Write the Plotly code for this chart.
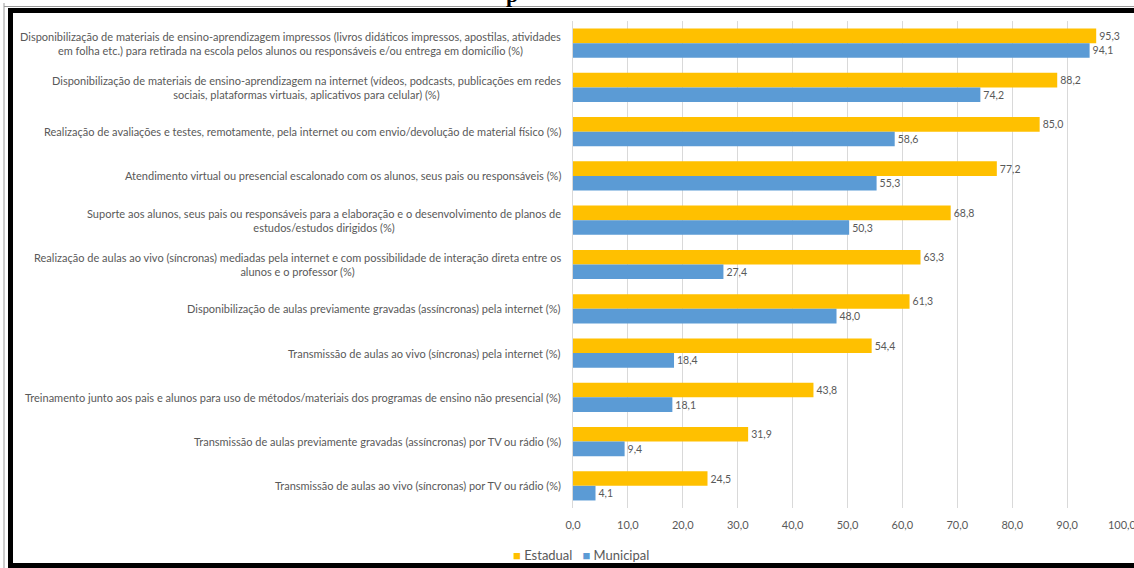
import plotly.graph_objects as go

categories = [
    "Disponibilização de materiais de ensino-aprendizagem impressos (livros didáticos impressos, apostilas, atividades<br>em folha etc.) para retirada na escola pelos alunos ou responsáveis e/ou entrega em domicílio (%)",
    "Disponibilização de materiais de ensino-aprendizagem na internet (vídeos, podcasts, publicações em redes<br>sociais, plataformas virtuais, aplicativos para celular) (%)",
    "Realização de avaliações e testes, remotamente, pela internet ou com envio/devolução de material físico (%)",
    "Atendimento virtual ou presencial escalonado com os alunos, seus pais ou responsáveis (%)",
    "Suporte aos alunos, seus pais ou responsáveis para a elaboração e o desenvolvimento de planos de<br>estudos/estudos dirigidos (%)",
    "Realização de aulas ao vivo (síncronas) mediadas pela internet e com possibilidade de interação direta entre os<br>alunos e o professor (%)",
    "Disponibilização de aulas previamente gravadas (assíncronas) pela internet (%)",
    "Transmissão de aulas ao vivo (síncronas) pela internet (%)",
    "Treinamento junto aos pais e alunos para uso de métodos/materiais dos programas de ensino não presencial (%)",
    "Transmissão de aulas previamente gravadas (assíncronas) por TV ou rádio (%)",
    "Transmissão de aulas ao vivo (síncronas) por TV ou rádio (%)",
]
estadual = [95.3, 88.2, 85.0, 77.2, 68.8, 63.3, 61.3, 54.4, 43.8, 31.9, 24.5]
municipal = [94.1, 74.2, 58.6, 55.3, 50.3, 27.4, 48.0, 18.4, 18.1, 9.4, 4.1]
x_ticks = [0, 10, 20, 30, 40, 50, 60, 70, 80, 90, 100]
series_names = ["Estadual", "Municipal"]
series_colors = ["#FFC000", "#5B9BD5"]

FONT = "Lato, Liberation Sans, sans-serif"
GRAY = "#595959"

def fmt(v):
    return f"{v:.1f}".replace(".", ",")

fig = go.Figure()
for name, vals, color in zip(series_names, [estadual, municipal], series_colors):
    fig.add_trace(go.Bar(
        y=categories, x=vals, orientation="h", name=name,
        marker=dict(color=color, line=dict(width=0)),
        text=[fmt(v) for v in vals], textposition="outside",
        textfont=dict(color=GRAY, size=10.5, family=FONT), cliponaxis=False,
    ))

# plot-area geometry in pixels (for frame shapes)
W, H = 1134, 568
L, R, T, B = 573, 12, 21, 60
PW, PH = W - L - R, H - T - B

def px(x):
    return (x - L) / PW

def py(y):
    return (H - B - y) / PH

shapes = []
shapes.append(dict(type="line", xref="paper", yref="paper", x0=px(4), x1=px(4), y0=py(3), y1=py(568),
                   line=dict(color="#9a9a9a", width=1)))
shapes.append(dict(type="line", xref="paper", yref="paper", x0=px(4), x1=px(1134), y0=py(6.5), y1=py(6.5),
                   line=dict(color="#9a9a9a", width=1)))
shapes.append(dict(type="rect", xref="paper", yref="paper", x0=px(8), x1=px(13), y0=py(8), y1=py(568),
                   fillcolor="black", line=dict(width=0)))
shapes.append(dict(type="rect", xref="paper", yref="paper", x0=px(8), x1=px(1134), y0=py(8), y1=py(13),
                   fillcolor="black", line=dict(width=0)))
shapes.append(dict(type="rect", xref="paper", yref="paper", x0=px(8), x1=px(1134), y0=py(563), y1=py(568),
                   fillcolor="black", line=dict(width=0)))

annotations = []
for c in categories:
    annotations.append(dict(
        x=0, xref="paper", y=c, yref="y", text=c, showarrow=False,
        xanchor="right", yanchor="middle", align="center", xshift=-10,
        font=dict(family=FONT, size=11, color=GRAY),
    ))
# cut-off title fragment at the top
annotations.append(dict(
    x=px(512), xref="paper", y=py(9), yref="paper", text="<b>p</b>", showarrow=False,
    xanchor="center", yanchor="bottom", font=dict(family="Liberation Serif", size=22, color="black"),
))
# legend
legend_text = "   ".join(
    f"<span style='color:{c}'>■</span> {n}" for n, c in zip(series_names, series_colors)
)
annotations.append(dict(
    x=px(581), xref="paper", y=py(555), yref="paper", text=legend_text, showarrow=False,
    xanchor="center", yanchor="middle", font=dict(family=FONT, size=13, color=GRAY),
))

fig.update_layout(
    width=W, height=H,
    margin=dict(l=L, r=R, t=T, b=B, autoexpand=False),
    paper_bgcolor="white", plot_bgcolor="white",
    barmode="group", bargap=0.34, bargroupgap=0,
    separators=",.",
    font=dict(family=FONT, color=GRAY),
    xaxis=dict(
        range=[0, 100], tickvals=x_ticks, tickformat=".1f",
        showgrid=True, gridcolor="#D9D9D9", gridwidth=1,
        zeroline=False, showline=False, ticks="",
        tickfont=dict(family=FONT, size=11, color=GRAY), ticklabelstandoff=9,
        ticklabeloverflow="allow",
    ),
    yaxis=dict(
        autorange="reversed", showticklabels=False, ticks="",
        showline=True, linecolor="#D9D9D9", linewidth=1, showgrid=False,
    ),
    shapes=shapes,
    annotations=annotations,
    showlegend=False,
)

fig.write_html(
    "out.html",
    config={"displayModeBar": False},
    post_script="document.body.style.margin='0';document.body.style.overflow='hidden';",
)
